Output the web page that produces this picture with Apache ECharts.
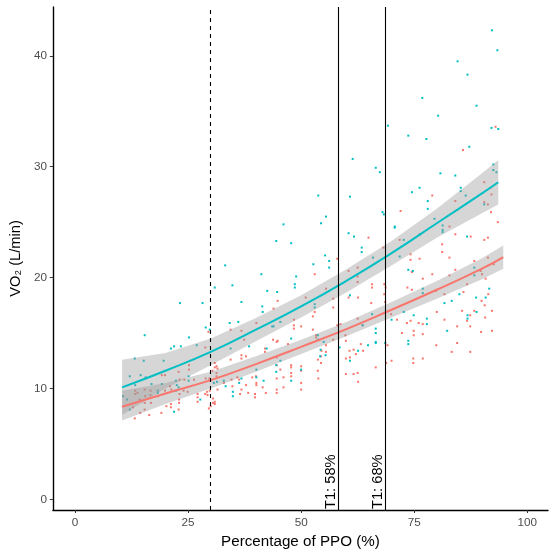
<!DOCTYPE html>
<html><head><meta charset="utf-8">
<script src="https://cdn.jsdelivr.net/npm/echarts@6/dist/echarts.min.js"></script>
<style>html,body{margin:0;padding:0;background:#fff}#c{width:556px;height:556px}</style>
</head><body><div id="c"></div>
<script>
// ---- data ----
const tealX = [92.2,93.4,84.6,86.8,76.8,88.8,80.3,69.2,92.1,93.6,73.7,77.7,87.2,61.4,66.5,67.4,80.8,84.1,92.5,92.5,93.2,
76.2,74.5,85.3,85.3,78.0,78.0,86.4,90.5,79.5,81.3,81.3,81.3,86.7,88.3,88.3,76.9,76.9,85.0,88.7,91.6,90.8,81.7,83.3,88.8,86.8,86.8,74.9,77.8,77.8,82.3,
60.8,68.0,68.3,70.7,70.7,60.5,61.7,63.4,63.4,65.9,76.3,73.7,74.7,71.8,72.7,60.8,72.7,70.0,65.7,63.6,66.5,66.5,66.5,66.5,64.8,73.7,73.7,60.8,68.6,62.6,
55.5,54.4,46.1,44.5,47.8,55.3,56.2,56.2,52.7,48.9,48.6,48.6,44.7,53.0,53.0,43.6,45.4,47.8,53.7,53.7,55.0,55.4,54.3,58.5,44.5,45.4,44.5,47.8,50.0,53.8,54.2,
33.2,41.2,30.9,34.8,36.8,42.5,28.2,41.4,41.5,34.2,36.1,28.9,29.8,43.9,38.5,34.4,42.4,40.1,40.1,31.4,32.9,33.3,30.7,36.8,36.3,34.9,34.9,41.7,
23.2,15.4,25.2,21.2,21.9,23.4,26.9,13.2,15.2,19.6,12.1,14.5,15.6,13.3,16.9,19.2,22.3,22.5,25.1,25.1,18.3,18.3,10.6,11.5,22.3,22.9,12.1,21.9,27.7];
const tealY = [42.3,40.5,39.5,38.3,36.2,35.5,34.6,33.7,33.5,33.4,32.8,32.5,31.8,30.7,29.9,29.5,29.4,29.2,30.2,29.7,29.5,
28.1,27.7,28.1,27.8,26.9,26.2,27.4,26.6,25.3,24.7,24.3,24.1,23.7,20.2,20.9,19.0,18.6,18.5,18.2,19.0,18.2,17.7,17.9,16.9,16.6,16.3,16.6,16.3,15.8,15.2,
27.3,25.9,25.7,24.6,24.5,24.0,23.7,22.7,22.3,21.8,23.9,20.7,20.6,21.9,23.4,18.4,16.9,16.2,16.7,15.7,15.4,15.0,14.2,14.1,13.9,14.3,14.0,12.5,14.1,13.4,
25.5,24.9,24.8,23.3,23.1,22.0,21.5,20.9,21.2,20.1,19.4,19.1,18.7,17.6,17.3,15.6,16.0,14.5,14.8,14.4,14.2,13.0,13.5,13.7,12.1,12.5,11.5,10.7,11.7,27.4,12.9,
21.1,20.3,19.1,19.3,17.8,18.8,17.7,17.4,16.9,15.9,16.0,15.5,15.3,15.6,13.8,13.6,13.6,11.7,11.0,10.6,10.7,10.2,10.5,10.9,10.5,9.7,9.3,10.7,
17.7,14.8,14.6,13.6,13.8,13.8,13.9,12.7,12.5,12.5,11.1,11.2,11.0,10.3,10.4,10.4,10.7,10.3,11.1,10.7,9.8,9.6,9.3,9.0,9.8,10.1,8.1,7.9,9.0];

const redX = [93.0,85.8,
90.5,91.9,92.1,79.0,84.1,90.5,91.3,92.0,93.5,82.8,84.1,90.5,91.3,87.5,76.2,81.2,81.2,82.8,76.2,88.3,89.7,90.0,91.3,92.6,90.8,84.1,82.8,76.9,74.5,79.0,86.7,79.8,81.7,85.9,89.9,91.4,90.6,92.2,80.0,85.6,87.4,88.3,76.9,81.7,86.7,87.4,90.7,84.5,74.9,74.9,76.9,89.8,92.2,79.9,84.5,87.4,83.3,76.9,
72.0,64.9,71.8,74.2,68.2,74.2,60.5,62.5,62.5,62.5,65.7,65.7,68.4,68.7,68.4,73.5,74.5,62.6,60.5,65.5,68.6,69.9,71.2,73.4,74.2,76.0,59.8,62.5,63.6,72.3,59.9,63.2,63.7,61.6,62.1,59.9,60.8,69.1,70.0,68.8,74.8,74.8,66.5,59.9,61.6,62.5,62.6,
44.8,53.0,51.0,55.5,57.1,57.1,53.0,52.6,43.9,48.4,48.4,48.4,50.0,52.6,58.0,58.7,57.1,44.8,47.1,54.5,54.4,54.4,53.3,53.3,53.7,53.7,55.5,55.5,60.7,45.4,44.6,47.8,47.8,47.8,47.8,50.0,50.0,50.0,50.0,46.1,46.1,53.8,58.0,
34.4,29.5,40.1,36.8,37.4,43.8,44.6,28.8,34.4,36.8,36.8,37.8,42.0,42.0,44.6,44.6,30.9,31.3,31.5,30.9,30.4,31.3,31.3,28.9,29.7,35.9,36.3,34.6,34.8,39.2,40.0,32.9,29.8,29.2,31.5,40.1,40.1,38.3,39.8,39.8,36.5,36.8,42.2,41.5,44.6,44.6,28.8,30.9,30.9,30.0,37.8,
22.9,25.2,25.2,19.2,19.9,13.3,13.3,15.4,15.5,16.7,16.7,14.3,15.4,16.8,18.3,19.9,21.3,21.0,23.1,24.2,26.3,24.0,24.9,27.1,27.1,27.1,11.7,12.8,15.4,14.4,16.4,20.2,21.2,19.1,21.2,22.9,23.0,23.1,23.0,13.2,29.6,30.5,29.3,30.5,13.8];
const redY = [33.6,31.5,
28.6,28.1,27.5,27.4,26.9,26.8,26.6,25.9,25.0,24.6,23.9,23.4,23.6,23.7,23.9,23.0,22.3,21.8,21.7,21.5,20.6,20.3,21.8,21.2,19.9,20.7,20.2,19.9,20.5,20.3,19.4,18.8,18.5,18.7,17.9,18.5,17.5,17.0,16.9,17.0,16.6,17.0,15.8,16.2,16.1,15.6,16.4,15.6,15.2,14.8,14.9,15.1,15.2,13.9,14.1,13.3,13.3,12.7,
26.0,23.6,23.4,22.1,22.7,21.6,20.6,20.9,20.1,19.6,19.4,19.1,19.4,19.1,18.5,19.1,18.9,18.2,18.2,17.7,17.8,16.7,16.2,15.9,16.1,15.9,14.8,16.3,15.7,15.0,14.3,14.0,13.4,13.5,13.1,12.7,12.8,13.9,12.5,12.3,12.7,12.3,11.9,11.3,11.3,11.4,10.6,
17.9,20.3,18.2,19.0,18.1,17.3,16.9,16.5,17.2,16.2,15.7,15.4,15.6,15.3,15.7,15.8,14.4,14.3,14.0,13.4,12.9,12.3,14.8,14.6,12.6,11.6,13.9,13.3,13.4,11.7,10.9,12.1,11.9,11.4,11.1,12.0,11.6,10.5,9.9,11.0,10.1,10.9,21.7,
15.3,15.1,15.9,15.2,14.4,14.4,14.2,13.7,12.6,13.0,12.7,12.9,13.6,13.3,12.8,12.1,12.3,12.0,11.8,11.9,11.6,11.4,11.1,10.9,10.9,11.0,10.8,10.8,10.2,11.0,11.1,10.5,9.8,9.7,9.9,10.5,10.3,9.6,9.5,9.2,9.5,9.9,9.6,10.1,9.9,9.6,9.5,8.8,8.6,8.4,10.3,
11.5,12.1,11.7,11.2,11.2,9.8,9.5,9.9,9.3,9.4,9.8,9.0,8.7,8.7,9.3,9.8,9.9,10.2,10.8,10.8,10.8,9.8,9.7,9.5,9.2,8.8,8.5,8.3,8.1,7.8,7.6,8.4,8.6,7.8,8.3,8.1,8.7,9.5,9.0,7.3,8.2,8.7,9.4,9.1,9.6];

// smooth fits with confidence bands
const tealFitX = [10.4,20,30,40,50,60,70,80,90,93.6];
const tealFit  = [10.1,11.6,13.3,15.3,17.4,19.7,22.2,24.9,27.6,28.6];
const tealLo   = [7.6,10.0,12.1,14.25,16.4,18.65,21.1,23.6,25.8,26.6];
const tealHi   = [12.6,13.2,14.5,16.35,18.4,20.75,23.3,26.2,29.4,30.6];
const redFitX  = [10.4,20,30,40,50,60,70,80,90,94.7];
const redFit   = [8.35,9.55,10.75,12.2,13.75,15.35,17.1,18.9,20.8,21.85];
const redLo    = [7.1,8.6,10.0,11.5,13.1,14.7,16.4,18.1,19.85,20.8];
const redHi    = [9.8,10.5,11.5,12.9,14.4,16.0,17.8,19.7,21.75,22.9];

const xTicks = [0,25,50,75,100];
const yTicks = [0,10,20,30,40];
const vlineX = [30,58.2,68.6];
const vlineLabel = ['','T1: 58%','T1: 68%'];

const RED = '#F8766D', TEAL = '#00BFC4';
const FONT = '"Liberation Sans", Arial, sans-serif';
const zip = (a,b) => a.map((v,i)=>[v,b[i]]);

function band(xs, lo, hi, z){
  return {type:'custom', z, silent:true, clip:true, animation:false,
    data:[[xs[0], lo[0]]],
    renderItem:(params, api)=>{
      const pts=[];
      for(let i=0;i<xs.length;i++) pts.push(api.coord([xs[i],hi[i]]));
      for(let i=xs.length-1;i>=0;i--) pts.push(api.coord([xs[i],lo[i]]));
      return {type:'polygon', shape:{points:pts, smooth:0}, style:{fill:'rgba(153,153,153,0.4)'}};
    }};
}

const chart = echarts.init(document.getElementById('c'), null, {renderer:'canvas'});
chart.setOption({
  animation:false,
  backgroundColor:'#fff',
  grid:{left:50,right:8,top:7,bottom:46,containLabel:false},
  xAxis:{type:'value',min:-4.9,max:104.6,
    axisLine:{show:true,onZero:false,lineStyle:{color:'#000',width:1.4}},
    axisTick:{show:true,length:3,customValues:xTicks,lineStyle:{color:'#333'}},
    axisLabel:{customValues:xTicks,color:'#4d4d4d',fontSize:11.7,fontFamily:FONT,margin:7},
    splitLine:{show:false},
    name:'Percentage of PPO (%)',nameLocation:'middle',nameGap:22,
    nameTextStyle:{color:'#000',fontSize:15.2,fontFamily:FONT}},
  yAxis:{type:'value',min:-0.96,max:44.4,
    axisLine:{show:true,onZero:false,lineStyle:{color:'#000',width:1.4}},
    axisTick:{show:true,length:3,customValues:yTicks,lineStyle:{color:'#333'}},
    axisLabel:{customValues:yTicks,color:'#4d4d4d',fontSize:11.7,fontFamily:FONT,margin:6},
    splitLine:{show:false},
    name:'VO₂ (L/min)',nameLocation:'middle',nameGap:25,nameRotate:90,
    nameTextStyle:{color:'#000',fontSize:14.67,fontFamily:FONT}},
  series:[
    {type:'scatter',z:1,data:zip(redX,redY),symbol:'rect',symbolSize:2,itemStyle:{color:RED,opacity:1},silent:true},
    {type:'scatter',z:1,data:zip(tealX,tealY),symbol:'rect',symbolSize:2,itemStyle:{color:TEAL,opacity:1},silent:true},
    band(redFitX, redLo, redHi, 2),
    band(tealFitX, tealLo, tealHi, 2),
    {type:'line',z:3,data:zip(redFitX,redFit),smooth:true,showSymbol:false,lineStyle:{color:RED,width:2},silent:true},
    {type:'line',z:3,data:zip(tealFitX,tealFit),smooth:true,showSymbol:false,lineStyle:{color:TEAL,width:2},silent:true},
    {type:'line',z:4,data:[],silent:true,
      markLine:{silent:true,symbol:'none',label:{show:false},
        data:vlineX.map((v,i)=>({xAxis:v,lineStyle:{color:'#000',width:1.1,type:i===0?[4,4]:'solid'}}))}}
  ]
});

const labels = [];
vlineX.forEach((v,i)=>{
  if(!vlineLabel[i]) return;
  const p = chart.convertToPixel({xAxisIndex:0,yAxisIndex:0},[v,-0.96]);
  labels.push({type:'text',x:p[0]+0.5,y:p[1]-1,rotation:Math.PI/2,z:10,silent:true,
    style:{text:vlineLabel[i],fill:'#000',font:'14.67px '+FONT,align:'left',verticalAlign:'bottom'}});
});
chart.setOption({graphic:labels});
</script></body></html>
